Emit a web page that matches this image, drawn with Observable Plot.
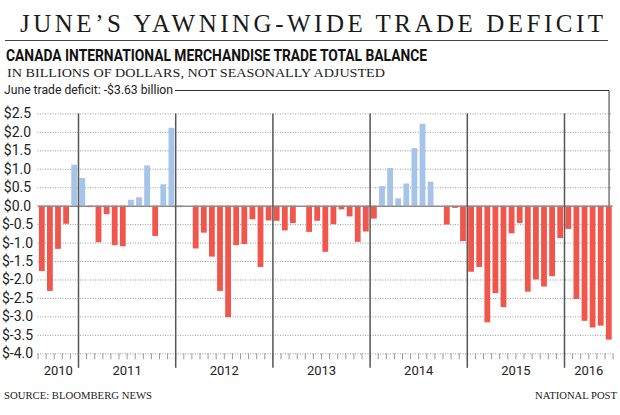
<!DOCTYPE html>
<html><head><meta charset="utf-8">
<script src="https://cdn.jsdelivr.net/npm/d3@7"></script>
<script src="https://cdn.jsdelivr.net/npm/@observablehq/plot@0.6"></script>
<style>
html,body{margin:0;padding:0;background:#fff;width:620px;height:415px;overflow:hidden;position:relative;}
.t{position:absolute;white-space:nowrap;line-height:1;color:#1a1a1a;display:inline-block;}
#chart{position:absolute;left:0;top:80px;}
</style></head><body>
<div id="title" class="t" style="font-family:'Liberation Serif';font-size:25px;top:10.8px;left:20px;">JUNE’S YAWNING-WIDE TRADE DEFICIT</div>
<div style="position:absolute;left:5px;top:40px;width:603px;border-top:1.5px solid #444;"></div>
<div id="head" class="t" style="font-family:Roboto;font-weight:bold;font-size:17px;top:47.4px;left:6px;color:#111;">CANADA INTERNATIONAL MERCHANDISE TRADE TOTAL BALANCE</div>
<div id="sub" class="t" style="font-family:'Liberation Serif';font-size:13.5px;top:66px;left:7px;color:#222;">IN BILLIONS OF DOLLARS, NOT SEASONALLY ADJUSTED</div>
<div id="anno" class="t" style="font-family:Roboto;font-size:12.5px;top:84px;left:4px;color:#222;">June trade deficit: -$3.63 billion</div>
<div style="position:absolute;left:175px;top:90.2px;width:434px;border-top:1px solid #333;"></div>
<div id="chart"></div>
<div id="src" class="t" style="font-family:'Liberation Serif';font-size:10.5px;top:391.2px;left:4px;color:#222;">SOURCE: BLOOMBERG NEWS</div>
<div id="np" class="t" style="font-family:'Liberation Serif';font-size:10.5px;top:391.2px;left:534.5px;color:#222;">NATIONAL POST</div>
<script>
// ---- data ----
const years = [2010, 2011, 2012, 2013, 2014, 2015, 2016];
const firstMonth2010 = 8; // series begins August 2010
const v2010 = [-1.77, -2.31, -1.17, -0.49, 1.11];
const v2011 = [0.75, -0.04, -0.99, -0.23, -1.07, -1.10, 0.16, 0.23, 1.09, -0.82, 0.58, 2.11];
const v2012 = [-0.04, 0.0, -1.16, -0.73, -1.38, -2.31, -3.02, -1.07, -1.04, -0.37, -1.66, -0.40];
const v2013 = [-0.41, -0.67, -0.47, 0.0, -0.71, -0.41, -1.25, -0.50, -0.10, -0.29, -0.98, -0.70];
const v2014 = [-0.35, 0.53, 1.02, 0.20, 0.60, 1.56, 2.22, 0.65, 0.0, -0.51, -0.06, -0.96];
const v2015 = [-1.79, -1.66, -3.16, -2.37, -2.75, -0.75, -0.47, -2.33, -2.00, -2.19, -1.91, -0.88];
const v2016 = [-0.63, -2.53, -3.12, -3.30, -3.25, -3.63];
const yTicks = [2.5, 2.0, 1.5, 1.0, 0.5, 0.0, -0.5, -1.0, -1.5, -2.0, -2.5, -3.0, -3.5, -4.0];

const perYear = [v2010, v2011, v2012, v2013, v2014, v2015, v2016];
const rows = [];
perYear.forEach((vals, k) => {
  vals.forEach((v, j) => {
    const month = (k === 0 ? firstMonth2010 : 1) + j;
    rows.push({i: rows.length, year: years[k], month, value: v});
  });
});
const n = rows.length;
const boundaries = rows.map(d => d.i).concat([n]);
const yearStarts = rows.filter(d => d.month === 1).map(d => d.i);
const yearLabels = d3.rollups(rows, v => (d3.min(v, d => d.i) + d3.max(v, d => d.i) + 1) / 2, d => d.year)
  .map(([year, x]) => ({year: String(year), x}));
const last = rows[n - 1];

// ---- layout ----
const mTop = 10.7;
const yTopPx = 33.4, yBotPx = 273.3;
const unit = (yBotPx - yTopPx) / 6.5;
const annoY = 2.5 + (yTopPx - mTop) / unit; // value at the annotation line's height

const chart = Plot.plot({
  width: 620, height: 300,
  marginLeft: 37.5, marginRight: 7.4, marginTop: mTop, marginBottom: 26.7,
  x: {domain: [0, n], axis: null},
  y: {domain: [-4, 2.5], range: [yBotPx, yTopPx], axis: null, label: null},
  style: {fontFamily: "Roboto", background: "transparent", color: "#222", overflow: "visible"},
  marks: [
    Plot.ruleY(yTicks.filter(v => v !== 0), {stroke: "#9a9a9a", strokeDasharray: "1,1.5", strokeWidth: 1}),
    Plot.rectY(rows.filter(d => d.value >= 0), {x1: "i", x2: d => d.i + 1, y1: 0, y2: "value", fill: "#a6c4e8", insetLeft: 1.4, insetRight: 0.9}),
    Plot.rectY(rows.filter(d => d.value < 0), {x1: "i", x2: d => d.i + 1, y1: 0, y2: "value", fill: "#f0564c", insetLeft: 1.4, insetRight: 0.9}),
    Plot.ruleY([0], {stroke: "#8c8c8c", strokeWidth: 1.5}),
    Plot.ruleX(boundaries, {y1: -4, y2: -4 - 6 / unit, stroke: "#999", strokeWidth: 1}),
    Plot.ruleX(yearStarts, {y1: 2.5, y2: -4 - 14.5 / unit, stroke: "#555", strokeWidth: 1.5}),
    Plot.axisY(yTicks, {tickSize: 0, tickPadding: 20.5, textAnchor: "middle", tickFormat: d => "$" + d.toFixed(1), fontSize: 14, fill: "#222", label: null}),
    Plot.text(yearLabels, {x: "x", text: "year", frameAnchor: "bottom", lineAnchor: "bottom", dy: 20.7, fontSize: 13, fill: "#222"}),
    Plot.ruleX([last], {x: d => d.i + 0.5, y1: 0, y2: annoY, stroke: "#333", strokeWidth: 1})
  ]
});
document.getElementById("chart").appendChild(chart);

// ---- fit header/footer text widths ----
function fitScale(id, target, origin) {
  const el = document.getElementById(id);
  const w = el.getBoundingClientRect().width;
  el.style.transformOrigin = origin || "left center";
  el.style.transform = `scaleX(${target / w})`;
}
function fitSpacing(id, target) {
  const el = document.getElementById(id);
  const w = el.getBoundingClientRect().width;
  const len = el.textContent.length;
  el.style.letterSpacing = ((target - w) / (len - 1)) + "px";
}
fitSpacing("title", 583);
fitScale("head", 421);
fitScale("sub", 378);
fitScale("anno", 169);
fitScale("src", 148);
fitScale("np", 82);
</script>
</body></html>
